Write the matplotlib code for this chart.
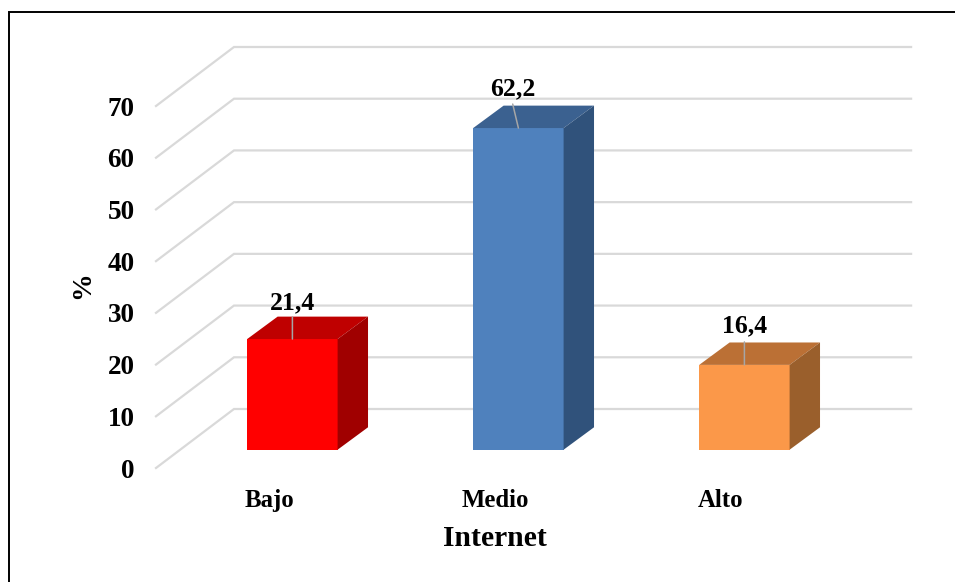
import matplotlib
matplotlib.use('Agg')
import matplotlib.pyplot as plt
from matplotlib.lines import Line2D

categories = ['Bajo', 'Medio', 'Alto']
values = [21.4, 62.2, 16.4]
labels = ['21,4', '62,2', '16,4']
yticks = [0, 10, 20, 30, 40, 50, 60, 70]

front_colors = ['#FF0000', '#4F81BD', '#FB9849']
top_colors = ['#BF0000', '#3B6190', '#BB7035']
side_colors = ['#A00000', '#30527B', '#9A5F2C']

plt.rcParams['font.family'] = ['Liberation Serif', 'DejaVu Serif']
plt.rcParams['font.weight'] = 'bold'

W, H = 955, 582
fig = plt.figure(figsize=(W / 100, H / 100), dpi=100)

# plot area is the front plane of the 3d box, in pixels
ax = fig.add_axes([156 / W, (H - 468) / H, 678 / W, 362 / H])
ax.set_xlim(0, 3)
ax.set_ylim(0, 70)

# depth of the box in data units
depth_x = 78 / 226
depth_y = 59 / 5.171
bar_front = 0.30
bar_back = 0.69
bar_width = 0.4
grid_right = 3 + depth_x - 0.004

for t in yticks:
    ax.plot([0, depth_x, grid_right], [t, t + depth_y, t + depth_y],
            color='#D9D9D9', lw=1.6, clip_on=False, zorder=1, solid_joinstyle='miter')

centers = [i + 0.5 + bar_front * depth_x for i in range(3)]
bottom = 0.31 * depth_y
ax.bar(centers, values, bar_width, bottom=bottom, color=front_colors, zorder=3)

off_x = (bar_back - bar_front) * depth_x
off_y = (bar_back - 0.31) * depth_y
for c, v, tc, sc in zip(centers, values, top_colors, side_colors):
    l, r = c - bar_width / 2, c + bar_width / 2
    top = bottom + v
    ax.fill([l, r, r + off_x, l + off_x], [top, top, top + off_y, top + off_y],
            color=tc, lw=0, zorder=3, clip_on=False)
    ax.fill([r, r + off_x, r + off_x, r], [bottom, bottom + off_y, top + off_y, top],
            color=sc, lw=0, zorder=3, clip_on=False)

# data labels with their leader lines
label_dx = [0, -5.7, 0]
label_dy = [36, 39, 39]
leader_dy = [22, 24, 23]
for c, v, txt, dx, dy, ldy in zip(centers, values, labels, label_dx, label_dy, leader_dy):
    pt = (c, bottom + v)
    ax.annotate('', xy=pt, xytext=(dx, ldy), textcoords='offset pixels',
                arrowprops=dict(arrowstyle='-', color='#A6A6A6', lw=1.1, shrinkA=0, shrinkB=0),
                zorder=4, annotation_clip=False)
    ax.annotate(txt, xy=pt, xytext=(dx, dy), textcoords='offset pixels',
                ha='center', va='center', fontsize=18.5, fontweight='bold', zorder=5,
                annotation_clip=False)

for s in ax.spines.values():
    s.set_visible(False)
ax.patch.set_visible(False)

ax.set_yticks(yticks)
ax.set_xticks([0.5, 1.5, 2.5])
ax.set_xticklabels(categories)
ax.tick_params(axis='y', length=0, pad=15.5, labelsize=19.5)
ax.tick_params(axis='x', length=0, pad=15, labelsize=17.8)
for lab in ax.get_xticklabels() + ax.get_yticklabels():
    lab.set_fontweight('bold')

fig.text(495 / W, 1 - 538.5 / H, 'Internet', ha='center', va='center', fontsize=21.3, fontweight='bold')
fig.text(83 / W, 1 - 285 / H, '%', ha='center', va='center', rotation=90, fontsize=20, fontweight='bold')

# outer frame, cut by the image on the right and bottom
fig.add_artist(Line2D([8.7 / W, 8.7 / W, 1], [0, 1 - 11.5 / H, 1 - 11.5 / H],
                      color='black', lw=1.4, solid_joinstyle='miter'))

fig.savefig('out.png', dpi=100)
